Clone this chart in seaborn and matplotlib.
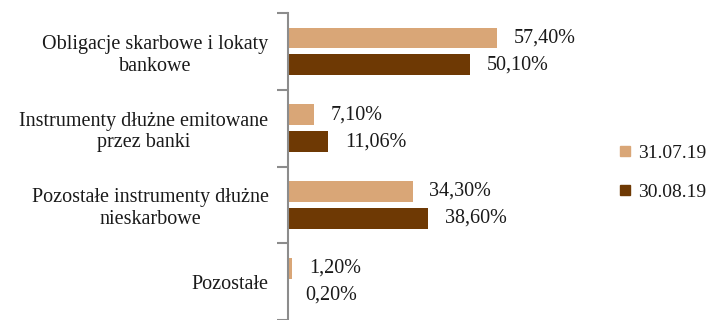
import matplotlib
matplotlib.use("Agg")
import matplotlib.pyplot as plt
from matplotlib.lines import Line2D
import seaborn as sns
import pandas as pd

categories = [
    "Obligacje skarbowe i lokaty\nbankowe",
    "Instrumenty dłużne emitowane\nprzez banki",
    "Pozostałe instrumenty dłużne\nnieskarbowe",
    "Pozostałe",
]
series = ["31.07.19", "30.08.19"]
values_jul = [57.40, 7.10, 34.30, 1.20]
values_aug = [50.10, 11.06, 38.60, 0.20]
colors = ["#D9A677", "#6E3904"]

df = pd.DataFrame({
    "kategoria": categories * 2,
    "okres": [series[0]] * 4 + [series[1]] * 4,
    "udzial": values_jul + values_aug,
})

sns.set_style("white")
plt.rcParams["font.family"] = ["Liberation Serif", "DejaVu Serif"]
FS = 14.5

fig = plt.figure(figsize=(7.09, 3.2), dpi=100)
ax = fig.add_axes([288 / 709, 0.0, 291 / 709, 1 - 13 / 320])

sns.barplot(data=df, y="kategoria", x="udzial", hue="okres", palette=colors,
            saturation=1, orient="h", width=0.7, gap=0.23, linewidth=0,
            legend=False, ax=ax)

ax.set_xlim(0, 80)
ax.set_ylim(3.5, -0.5)
ax.set_xlabel("")
ax.set_ylabel("")
ax.set_xticks([])

for cont in ax.containers:
    vals = [b.get_width() for b in cont]
    ax.bar_label(cont, labels=[f"{v:.2f}".replace(".", ",") + "%" for v in vals],
                 padding=12, fontsize=FS, color="#1a1a1a")

for side in ["top", "right", "bottom"]:
    ax.spines[side].set_visible(False)
ax.spines["left"].set_color("#8c8c8c")
ax.spines["left"].set_linewidth(1.5)

ax.tick_params(axis="y", which="major", length=0, pad=14, labelsize=FS,
               labelcolor="#1a1a1a")
ax.set_yticks([-0.5, 0.5, 1.5, 2.5, 3.5], minor=True)
ax.tick_params(axis="y", which="minor", length=8, width=1.5, color="#8c8c8c",
               left=True)
for lbl in ax.get_yticklabels():
    lbl.set_multialignment("center")

handles = [Line2D([], [], marker="s", linestyle="none", markersize=7.5,
                  markerfacecolor=c, markeredgecolor=c) for c in colors]
fig.legend(handles, series, loc="center left", bbox_to_anchor=(606 / 709, 0.46),
           frameon=False, fontsize=14, labelspacing=1.1, handletextpad=0.15,
           handlelength=1.0, borderpad=0, labelcolor="#1a1a1a")

fig.savefig("out.png", dpi=100)
